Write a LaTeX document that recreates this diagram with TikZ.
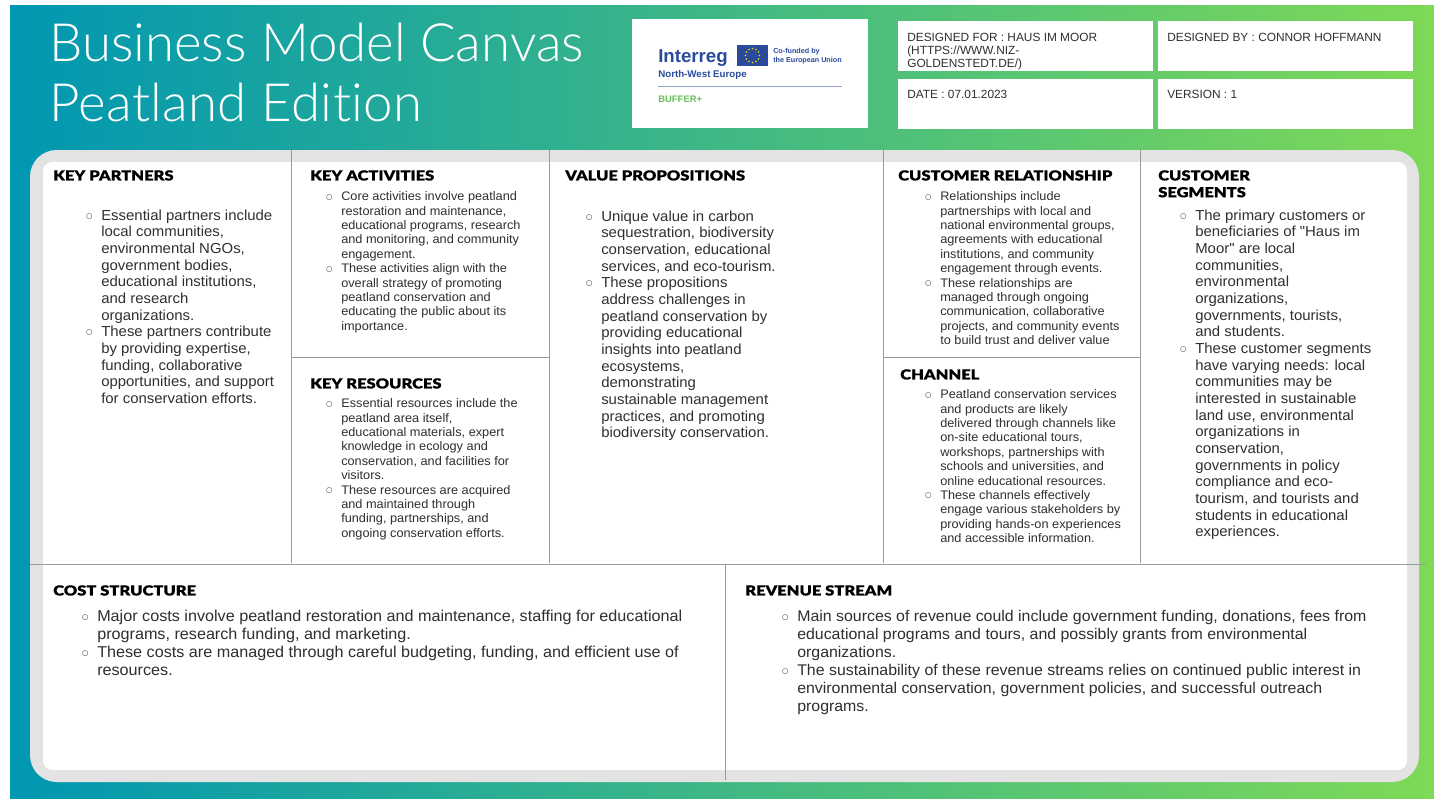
\documentclass[tikz,border=0pt]{standalone}
\usepackage{fontspec}
\usetikzlibrary{calc}
\setmainfont{Liberation Sans}
\newfontfamily\bodyf{Liberation Sans}[FakeStretch=1.028]
\newfontfamily\lightf{Lato Light}[Ligatures=NoCommon]
\newfontfamily\headf{Lato Black}[FakeStretch=1.19,FakeBold=0.4]
\newfontfamily\dejavu{DejaVu Sans}
\definecolor{gradL}{HTML}{0097B2}
\definecolor{gradR}{HTML}{7ED957}
\definecolor{panel}{HTML}{E3E3E3}
\definecolor{rule}{HTML}{9A9A9A}
\definecolor{ink}{HTML}{2F2F2F}
\definecolor{ebl}{HTML}{2A4A9C}
\definecolor{bufg}{HTML}{6CBF5A}
\newcommand{\bul}{\llap{\raisebox{.14em}{\dejavu\fontsize{5.5}{5.5}\selectfont ○}\hspace{6.6pt}}}
\tikzset{
 base/.style={anchor=north west,inner sep=0pt,align=left,text=ink},
 bodyL/.style={base,font=\bodyf\fontsize{10.9}{12.5}\selectfont},
 bodyS/.style={base,font=\bodyf\fontsize{9.3}{10.8}\selectfont},
 bodyB/.style={base,font=\bodyf\fontsize{11.8}{13.5}\selectfont},
 bodyR/.style={base,font=\bodyf\fontsize{11.6}{13.5}\selectfont},
 head/.style={anchor=north west,inner sep=0pt,align=left,text=black,font=\headf\fontsize{10.4}{12.6}\selectfont},
 meta/.style={anchor=north west,inner sep=0pt,align=left,text=ink,font=\fontsize{8.9}{9.8}\selectfont},
 titlet/.style={anchor=west,inner sep=0pt,text=white,font=\lightf\fontsize{39.6}{44}\selectfont},
 card/.style={fill=white,draw=none},
 divider/.style={draw=rule,line width=0.75pt},
}
\begin{document}
\begin{tikzpicture}[x=0.75pt,y=-0.75pt]
\useasboundingbox (0,0) rectangle (1434,799);
\shade[left color=gradL,right color=gradR] (10,6) rectangle (1434,799);
% title
\node[titlet] (title1) at (49,43) {Business Model Canvas};
\node[titlet] (title2) at (49,103) {\addfontfeature{LetterSpace=0.7}Peatland Edition};
% logo
\fill[card] (632,19) rectangle (868,128);
\node[anchor=west,inner sep=0pt,text=ebl,font=\bfseries\fontsize{14}{16}\selectfont] (interreg) at (658,58) {Interreg};
\fill[ebl] (737,45) rectangle (768,66);
\foreach \a in {0,30,...,330}{\fill[yellow!80!orange] ($(752.5,55.5)+(\a:7)$) circle (0.9);}
\node[anchor=north west,inner sep=0pt,align=left,text=ebl,font=\bfseries\fontsize{5.4}{6.7}\selectfont] (cofund) at (773,48) {Co-funded by\\the European Union};
\node[anchor=west,inner sep=0pt,text=ebl,font=\bfseries\fontsize{7.3}{8}\selectfont] (nwe) at (658,75) {North-West Europe};
\draw[ebl!50,line width=0.75pt] (658,87) -- (842,87);
\node[anchor=west,inner sep=0pt,text=bufg,font=\bfseries\fontsize{7.1}{8}\selectfont] (buffer) at (658,99) {BUFFER+};
% meta boxes
\fill[card] (898,21) rectangle (1153,71);
\fill[card] (1158,21) rectangle (1413,71);
\fill[card] (898,79) rectangle (1153,129);
\fill[card] (1158,79) rectangle (1413,129);
\node[meta] (designedfor) at (907,33) {DESIGNED FOR : HAUS IM MOOR\\(HTTPS://WWW.NIZ-\\GOLDENSTEDT.DE/)};
\node[meta] (designedby) at (1167,33) {DESIGNED BY : CONNOR HOFFMANN};
\node[meta] (date) at (907,90) {DATE : 07.01.2023};
\node[meta] (version) at (1167,90) {VERSION : 1};
% canvas
\fill[panel,rounded corners=20pt] (30,150) rectangle (1419,782);
\fill[white,rounded corners=7pt] (43,162) rectangle (1407,770);
\draw[divider] (291,150) -- (291,563);
\draw[divider] (549,150) -- (549,563);
\draw[divider] (883,150) -- (883,563);
\draw[divider] (1140,150) -- (1140,563);
\draw[divider] (30,564) -- (1426,564);
\draw[divider] (292,357) -- (549,357);
\draw[divider] (883,357) -- (1140,357);
\draw[divider] (725,564) -- (725,780);
% headings
\node[head] (hKP) at (53,170) {KEY PARTNERS};
\node[head] (hKA) at (310,170) {KEY ACTIVITIES};
\node[head] (hKR) at (310,378) {KEY RESOURCES};
\node[head] (hVP) at (565,170) {VALUE PROPOSITIONS};
\node[head] (hCR) at (898,170) {CUSTOMER RELATIONSHIP};
\node[head] (hCH) at (900,369) {CHANNEL};
\node[head] (hCS) at (1158,170) {CUSTOMER\\SEGMENTS};
\node[head] (hCO) at (53,585) {COST STRUCTURE};
\node[head] (hRE) at (745,585) {REVENUE STREAM};
% bodies
\node[bodyL] (tKP) at (101,208.3) {\strut\bul Essential partners include\\local communities,\\environmental NGOs,\\government bodies,\\educational institutions,\\and research\\organizations.\\\bul These partners contribute\\by providing expertise,\\funding, collaborative\\opportunities, and support\\for conservation efforts.};
\node[bodyS] (tKA) at (341,190.4) {\strut\bul Core activities involve peatland\\restoration and maintenance,\\educational programs, research\\and monitoring, and community\\engagement.\\\bul These activities align with the\\overall strategy of promoting\\peatland conservation and\\educating the public about its\\importance.};
\node[bodyS] (tKR) at (341,397.4) {\strut\bul Essential resources include the\\peatland area itself,\\educational materials, expert\\knowledge in ecology and\\conservation, and facilities for\\visitors.\\\bul These resources are acquired\\and maintained through\\funding, partnerships, and\\ongoing conservation efforts.};
\node[bodyL] (tVP) at (601,209.3) {\strut\bul Unique value in carbon\\sequestration, biodiversity\\conservation, educational\\services, and eco-tourism.\\\bul These propositions\\address challenges in\\peatland conservation by\\providing educational\\insights into peatland\\ecosystems,\\demonstrating\\sustainable management\\practices, and promoting\\biodiversity conservation.};
\node[bodyS] (tCR) at (940,190.4) {\strut\bul Relationships include\\partnerships with local and\\national environmental groups,\\agreements with educational\\institutions, and community\\engagement through events.\\\bul These relationships are\\managed through ongoing\\communication, collaborative\\projects, and community events\\to build trust and deliver value};
\node[bodyS] (tCH) at (940,388.4) {\strut\bul Peatland conservation services\\and products are likely\\delivered through channels like\\on-site educational tours,\\workshops, partnerships with\\schools and universities, and\\online educational resources.\\\bul These channels effectively\\engage various stakeholders by\\providing hands-on experiences\\and accessible information.};
\node[bodyL] (tCS) at (1195,208.3) {\strut\bul The primary customers or\\beneficiaries of "Haus im\\Moor" are local\\communities,\\environmental\\organizations,\\governments, tourists,\\and students.\\\bul These customer segments\\have varying needs: local\\communities may be\\interested in sustainable\\land use, environmental\\organizations in\\conservation,\\governments in policy\\compliance and eco-\\tourism, and tourists and\\students in educational\\experiences.};
\node[bodyB] (tCO) at (97,609) {\strut\bul Major costs involve peatland restoration and maintenance, staffing for educational\\programs, research funding, and marketing.\\\bul These costs are managed through careful budgeting, funding, and efficient use of\\resources.};
\node[bodyR] (tRE) at (797,609) {\strut\bul Main sources of revenue could include government funding, donations, fees from\\educational programs and tours, and possibly grants from environmental\\organizations.\\\bul The sustainability of these revenue streams relies on continued public interest in\\environmental conservation, government policies, and successful outreach\\programs.};
\end{tikzpicture}
\end{document}
